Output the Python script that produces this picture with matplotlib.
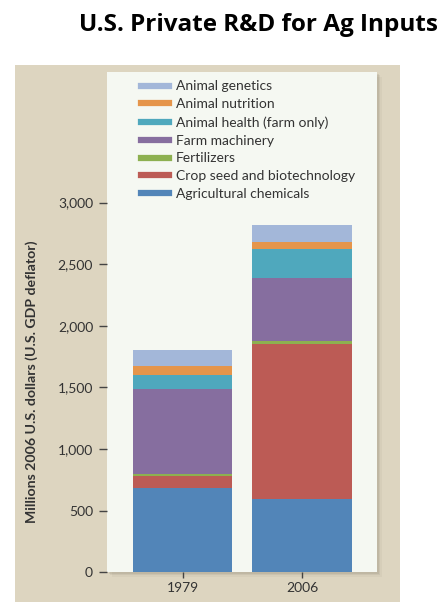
import matplotlib.pyplot as plt
from matplotlib.patches import Rectangle
from matplotlib.lines import Line2D
from matplotlib.ticker import FuncFormatter

years = ["1979", "2006"]
categories = ["Agricultural chemicals", "Crop seed and biotechnology", "Fertilizers",
              "Farm machinery", "Animal health (farm only)", "Animal nutrition",
              "Animal genetics"]
# millions of 2006 US dollars, per category, [1979, 2006]
ag_chemicals = [686, 592]
crop_seed = [98, 1263]
fertilizers = [13, 20]
farm_machinery = [691, 511]
animal_health = [111, 238]
animal_nutrition = [78, 59]
animal_genetics = [130, 136]

series = [ag_chemicals, crop_seed, fertilizers, farm_machinery,
          animal_health, animal_nutrition, animal_genetics]
colors = ["#5285b8", "#bc5b55", "#8db050", "#866e9f", "#4fa8bd", "#e5954b", "#a3b7d9"]

fig = plt.figure(figsize=(4.48, 6.02), dpi=100)

# beige backdrop behind the chart
fig.patches.append(Rectangle((15/448, 0), 385/448, (602-65)/602, transform=fig.transFigure,
                             facecolor="#ddd5c0", edgecolor="none", zorder=-3))
# soft shadow of the panel
for i, a in enumerate([0.12, 0.09, 0.06]):
    d = (i + 1) * 1.5
    fig.patches.append(Rectangle(((107+d)/448, (30-d)/602), 270/448, 500/602,
                                 transform=fig.transFigure, facecolor="#6b6250",
                                 edgecolor="none", alpha=a, zorder=-2))

ax = fig.add_axes([107/448, 29.7/602, 270/448, 500.3/602])
ax.set_facecolor("#f5f8f2")

x = [0, 1]
bottom = [0, 0]
for vals, col in zip(series, colors):
    ax.bar(x, vals, width=0.83, bottom=bottom, color=col, edgecolor="none")
    bottom = [b + v for b, v in zip(bottom, vals)]

ax.set_xlim(-0.632, 1.628)
ax.set_ylim(0, 4060)
ax.set_yticks([0, 500, 1000, 1500, 2000, 2500, 3000])
ax.yaxis.set_major_formatter(FuncFormatter(lambda v, p: "{:,.0f}".format(v)))
ax.set_xticks(x)
ax.set_xticklabels(years)

for s in ax.spines.values():
    s.set_visible(False)
ax.tick_params(axis="y", length=6, width=1, color="#444444", pad=4,
               labelsize=10, labelcolor="#333333")
ax.tick_params(axis="x", length=4, width=1, color="#444444", pad=3,
               labelsize=10, labelcolor="#333333")
for lab in ax.get_xticklabels() + ax.get_yticklabels():
    lab.set_family("Lato")

handles = [Line2D([0], [0], color=c, lw=4.5) for c in colors[::-1]]
leg = ax.legend(handles, categories[::-1], loc="upper left", bbox_to_anchor=(0.08, 1.008),
                frameon=False, handlelength=2.0, handletextpad=0.5, labelspacing=0.42,
                prop={"family": "Lato", "size": 10})
for t in leg.get_texts():
    t.set_color("#333333")

fig.text(32/448, 1 - 382/602, "Millions 2006 U.S. dollars (U.S. GDP deflator)",
         rotation=90, ha="center", va="center", fontsize=10.2, fontweight="bold",
         family="Lato", color="#333333")

fig.text(258/448, 1 - 25/602, "U.S. Private R&D for Ag Inputs", ha="center", va="center",
         fontsize=17.5, fontweight="bold", family="Open Sans", color="black")

fig.savefig("out.png", dpi=100)
